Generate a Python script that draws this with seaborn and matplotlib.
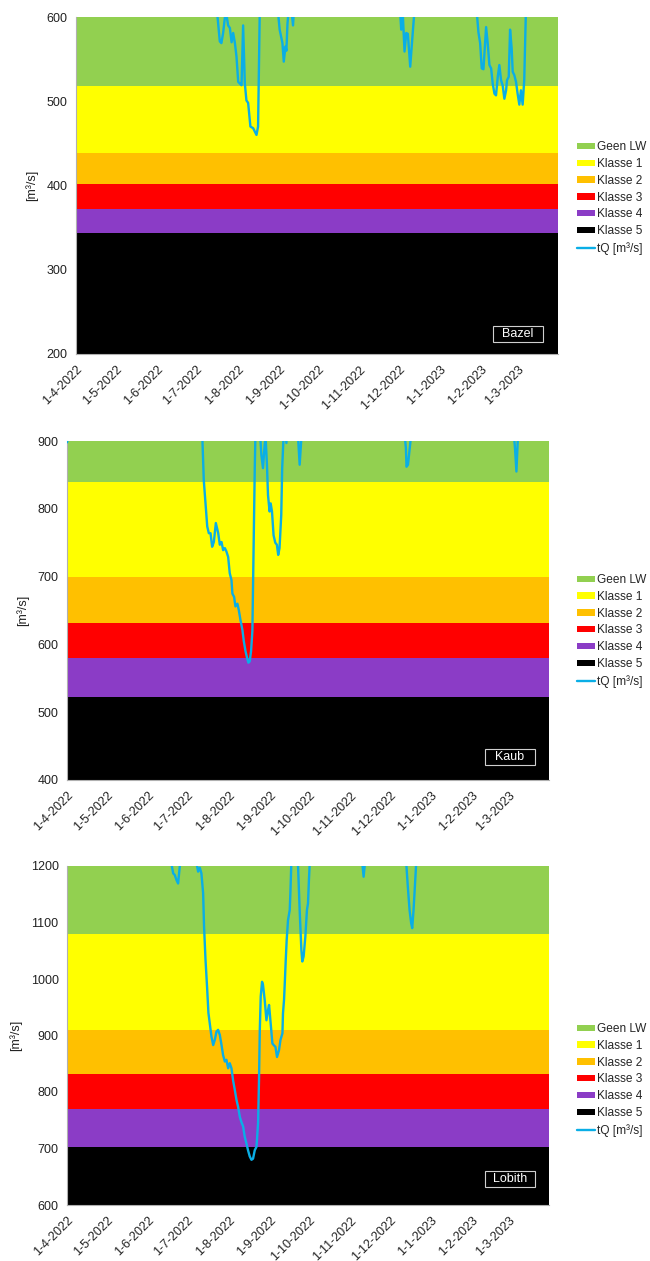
import pandas as pd
import numpy as np
import matplotlib.pyplot as plt
import seaborn as sns
from matplotlib.patches import Patch, Rectangle
from matplotlib.lines import Line2D

sns.set_theme(style='white')
plt.rcParams['font.family'] = ['Liberation Sans', 'DejaVu Sans']

START = pd.Timestamp('2022-04-01')
END = pd.Timestamp('2023-03-31')

# ============================================================
# Data
# ============================================================
class_names = ['Geen LW', 'Klasse 1', 'Klasse 2', 'Klasse 3', 'Klasse 4', 'Klasse 5']
class_colors = ['#92d050', '#ffff00', '#ffc000', '#ff0000', '#8b3cc6', '#000000']
line_label = 'tQ [m³/s]'
line_color = '#0aaee6'

tick_dates = ['2022-04-01', '2022-05-01', '2022-06-01', '2022-07-01', '2022-08-01', '2022-09-01',
              '2022-10-01', '2022-11-01', '2022-12-01', '2023-01-01', '2023-02-01', '2023-03-01']
tick_labels = ['1-4-2022', '1-5-2022', '1-6-2022', '1-7-2022', '1-8-2022', '1-9-2022',
               '1-10-2022', '1-11-2022', '1-12-2022', '1-1-2023', '1-2-2023', '1-3-2023']

# class boundaries (upper limit of each lower class), m3/s
bazel_bounds = [518, 439, 402, 372, 344]
kaub_bounds = [840, 700, 631, 580, 522]
lobith_bounds = [1080, 910, 832, 770, 703]

# days since 1-4-2022 and discharge (values above the axis top are off-chart)
bazel_days = [0, 50, 100, 104.8, 106.6, 108.6, 109.8, 111.1, 112.4, 113.7, 114.9, 116.2, 117.5,
              118.7, 120.0, 121.2, 122.5, 123.7, 125.0, 126.2, 127.5, 128.7, 130.0, 131.7, 133.8,
              136.3, 137.5, 138.8, 140, 146, 150.8, 152.6, 153.8, 155.9, 156.9, 158.2, 158.9,
              159.7, 160.7, 162.4, 163.9, 164.7, 170, 220, 243.1, 244.8, 245.6, 246.9, 248.1,
              249.4, 250.6, 252.4, 253.9, 255.7, 256.9, 280, 300.9, 302.7, 303.9, 305.2, 306.4,
              307.7, 309.7, 310.9, 312.2, 313.5, 314.7, 316.0, 317.2, 318.5, 319.7, 321.0, 322.2,
              323.5, 324.8, 325.5, 326.8, 327.8, 329.0, 329.8, 331.0, 332.3, 333.5, 334.8, 336.0,
              337.3, 338.5, 339.8, 341, 364]
bazel_q = [800, 750, 680, 640, 605, 571, 569, 581, 599, 602, 590, 587, 570,
           581, 569, 553, 523, 521, 519, 590, 521, 501, 498, 470, 468,
           460, 470, 610, 700, 720, 680, 605, 585, 569, 547, 565, 560,
           592, 610, 612, 590, 612, 680, 720, 640, 605, 585, 600, 559,
           581, 580, 541, 573, 610, 680, 700, 650, 605, 582, 569, 539,
           538, 588, 569, 543, 539, 521, 509, 507, 529, 543, 525, 519,
           503, 513, 525, 529, 585, 563, 535, 531, 523, 509, 496, 513,
           496, 525, 610, 700, 800]

kaub_days = [0, 1, 20, 60, 95, 101.5, 102.3, 103.3, 104.6, 105.9, 107.1, 108.4, 109.6, 110.9,
             112.4, 114.2, 115.4, 116.7, 117.9, 119.2, 120.4, 121.7, 122.9, 124.2, 124.9, 126.2,
             127.2, 128.7, 129.7, 131.0, 132.5, 133.5, 134.8, 136, 137, 138, 139, 140, 140.6,
             141.2, 141.8, 142.3, 144, 146, 146.8, 148, 149.3, 150, 151, 151.8, 153, 153.8,
             154.8, 156, 157.3, 158.5, 159.5, 160.5, 161.8, 162.5, 163.5, 164.5, 165.7, 166.5,
             170, 174.5, 175.7, 177, 180, 220, 254.5, 255.9, 256.4, 257.5, 259.4, 260.5, 300,
             337, 338.3, 339.4, 340.5, 342, 364]
kaub_q = [898, 905, 1000, 1100, 1000, 940, 900, 842, 808, 774, 764, 764, 744, 751,
          779, 764, 747, 751, 739, 742, 737, 729, 705, 695, 675, 670,
          656, 660, 651, 636, 621, 605, 590, 580, 573, 575, 590, 620, 700,
          780, 860, 910, 960, 905, 879, 860, 895, 905, 865, 820, 796, 808,
          796, 761, 750, 747, 732, 742, 791, 860, 905, 920, 897, 920,
          950, 905, 865, 905, 960, 1000, 920, 890, 862, 865, 900, 930, 1000,
          920, 890, 855, 905, 960, 1000]

lobith_days = [0, 40, 77, 79, 80.2, 81.4, 82.7, 83.9, 85.2, 86, 92, 97.5, 99, 100.3, 101.5,
               102.8, 103.5, 104.6, 105.8, 106.8, 109.1, 110.4, 111.6, 112.9, 114.1, 115.4,
               116.7, 117.9, 119.2, 120.4, 121.7, 122.9, 124.2, 125.4, 126.7, 128, 129.2, 130.5,
               131.7, 133, 134.2, 135.5, 136.7, 138, 139.3, 140.5, 141.8, 143.1, 144.3, 145,
               145.6, 146.3, 147.3, 148, 149.3, 150.6, 151.8, 152.6, 153.6, 155.1, 156.1, 157.4,
               158.6, 160.1, 161.2, 162.7, 163.1, 163.9, 164.6, 165.2, 165.9, 166.9, 168.2,
               168.7, 169.4, 171, 174.4, 175.7, 177, 177.7, 178.7, 180, 181.2, 182, 182.7, 183.3,
               190, 218, 223, 224, 225, 230, 254, 256.2, 257.4, 258.7, 259.9, 260.7, 261.7,
               262.7, 263.7, 270, 364]
lobith_q = [1400, 1300, 1220, 1202, 1187, 1184, 1175, 1169, 1200, 1220, 1250, 1210, 1190, 1197, 1187,
            1152, 1093, 1034, 985, 940, 898, 883, 892, 907, 910, 901,
            883, 865, 854, 857, 842, 851, 842, 821, 804, 786, 774, 756,
            747, 739, 721, 709, 697, 686, 680, 682, 697, 703, 745, 821,
            910, 969, 995, 990, 963, 927, 945, 954, 927, 886, 883, 880,
            862, 874, 892, 904, 939, 963, 1000, 1034, 1069, 1104, 1122,
            1152, 1205, 1250, 1205, 1122, 1051, 1031, 1040, 1075, 1122, 1134, 1175, 1205,
            1300, 1250, 1205, 1181, 1205, 1260, 1250, 1205, 1163, 1122, 1099, 1090, 1122,
            1163, 1205, 1300, 1350]

panels = [
    ('Bazel', bazel_days, bazel_q, bazel_bounds, (200, 600),
     [76, 17, 558, 354], 0.463, (0.917, 0.059)),
    ('Kaub', kaub_days, kaub_q, kaub_bounds, (400, 900),
     [67, 441, 549, 780], 0.44, (0.919, 0.067)),
    ('Lobith', lobith_days, lobith_q, lobith_bounds, (600, 1200),
     [67, 866, 549, 1205], 0.369, (0.919, 0.078)),
]

W, H = 650, 1261
fig = plt.figure(figsize=(W / 100, H / 100), dpi=100)

for name, days, q, bounds, ylim, box, leg_y, lab_xy in panels:
    x0, y0, x1, y1 = box
    ax = fig.add_axes([x0 / W, 1 - y1 / H, (x1 - x0) / W, (y1 - y0) / H])

    # low water class bands
    edges = [ylim[1]] + bounds + [ylim[0]]
    for i, c in enumerate(class_colors):
        ax.axhspan(edges[i + 1], edges[i], color=c, lw=0, zorder=0)

    df = pd.DataFrame({'date': START + pd.to_timedelta(days, unit='D'), 'Q': q})
    sns.lineplot(data=df, x='date', y='Q', ax=ax, color=line_color, lw=1.7, zorder=3)

    ax.set_xlim(START, END)
    ax.set_ylim(*ylim)
    ax.set_yticks(np.arange(ylim[0], ylim[1] + 1, 100))
    ax.set_xticks(pd.to_datetime(tick_dates))
    ax.set_xticklabels(tick_labels, rotation=45, ha='right', rotation_mode='anchor')
    ax.set_xticks([END], minor=True)
    ax.tick_params(axis='both', which='both', direction='out', length=4, width=0.8,
                   color='#a0a0a0', labelsize=9, labelcolor='#222222', pad=2)
    ax.tick_params(axis='x', which='both', length=5, labelsize=9)
    ax.set_xlabel('')
    ax.set_ylabel('[m³/s]', fontsize=9, color='#222222', labelpad=6)
    for s in ['top', 'right']:
        ax.spines[s].set_visible(False)
    for s in ['left', 'bottom']:
        ax.spines[s].set_color('#b0b0b0')
        ax.spines[s].set_linewidth(0.8)

    # station name box
    bw, bh = 50 / (x1 - x0), 16 / (y1 - y0)
    ax.add_patch(Rectangle((lab_xy[0] - bw / 2, lab_xy[1] - bh / 2), bw, bh,
                           transform=ax.transAxes, facecolor='black',
                           edgecolor='#d0d0d0', lw=0.8, zorder=5))
    ax.text(lab_xy[0], lab_xy[1], name, transform=ax.transAxes, color='white',
            fontsize=9, ha='center', va='center', zorder=6)

    handles = [Patch(facecolor=c, edgecolor='none') for c in class_colors]
    handles.append(Line2D([0], [0], color=line_color, lw=1.7))
    leg_x = 1 + (577 - x1) / (x1 - x0)
    ax.legend(handles, class_names + [line_label], loc='center left',
              bbox_to_anchor=(leg_x, leg_y), frameon=False, fontsize=8.6,
              handlelength=1.5, handleheight=0.45, handletextpad=0.15,
              labelspacing=0.4, borderpad=0, borderaxespad=0)

plt.savefig('out.png', dpi=100)
plt.close()
